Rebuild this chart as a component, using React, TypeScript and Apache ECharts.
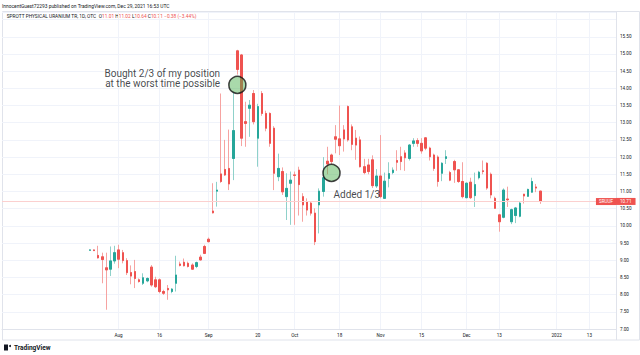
import React, { useEffect, useRef } from 'react';
import * as echarts from 'echarts';

// ---------- data ----------
const HOLIDAYS = ['2021-07-05', '2021-09-06', '2021-11-25', '2021-12-24', '2022-01-17'];
const AXIS_START = '2021-06-22';
const SLOT_COUNT = 150;
const FIRST_BAR = '2021-07-22';

const tickLabels: Record<string, string> = {
  '2021-08-02': 'Aug',
  '2021-08-16': '16',
  '2021-09-01': 'Sep',
  '2021-09-20': '20',
  '2021-10-01': 'Oct',
  '2021-10-18': '18',
  '2021-11-01': 'Nov',
  '2021-11-15': '15',
  '2021-12-01': 'Dec',
  '2021-12-13': '13',
  '2022-01-03': '2022',
  '2022-01-13': '13',
};

const opens = [
  9.29, 9.30, 9.14, 9.10, 8.78, 8.74, 8.98,
  9.30, 9.22, 8.99, 8.64, 8.67, 8.43, 8.33, 8.40, 8.80, 8.43,
  8.43, 8.09, 8.18, 8.09, 8.33, 8.89, 8.94, 8.91, 8.86, 8.82,
  9.09, 9.40, 9.61, 10.43, 11.01, 11.51, 11.64, 11.67, 11.96,
  15.09, 14.97, 13.03, 13.42, 13.85, 12.55, 13.85, 13.27, 13.27, 12.84,
  11.43, 11.58, 10.85, 11.24, 11.48, 11.62, 10.85, 10.70, 10.66, 10.37,
  10.61, 11.00, 11.88, 12.06, 12.59, 12.53, 12.79, 13.47, 12.88, 12.55,
  12.50, 11.72, 11.77, 11.92, 11.16, 11.45, 10.80, 11.38, 11.55, 11.90,
  12.01, 12.12, 11.96, 12.40, 12.48, 12.40, 12.56, 12.26, 12.06, 12.00,
  11.53, 11.96, 11.55, 11.87, 11.63, 11.29, 10.82, 11.27, 10.88, 11.40,
  11.60, 11.82, 11.50, 10.80, 10.32, 10.25, 10.78, 10.12, 10.30, 10.28,
  10.92, 10.86, 10.98, 11.13, 11.01,
];
const highs = [
  9.31, 9.31, 9.42, 9.22, 9.22, 9.40, 9.42,
  9.45, 9.30, 9.06, 8.85, 9.01, 8.47, 8.62, 8.50, 8.86, 8.52,
  8.47, 8.14, 8.28, 8.19, 9.13, 8.96, 9.05, 8.96, 8.91, 8.96,
  9.16, 9.45, 9.66, 11.24, 11.28, 13.85, 12.50, 12.80, 13.90,
  15.12, 15.00, 13.61, 13.66, 13.95, 13.55, 13.92, 13.35, 13.30, 12.90,
  12.10, 11.70, 11.53, 11.58, 11.58, 11.72, 10.95, 10.80, 10.70, 10.51,
  11.09, 12.00, 12.30, 12.10, 12.93, 13.50, 12.93, 13.50, 12.95, 12.79,
  12.60, 11.95, 11.95, 12.05, 11.65, 12.64, 11.55, 11.85, 11.70, 12.20,
  12.30, 12.20, 12.38, 12.55, 12.55, 12.55, 12.58, 12.30, 12.10, 12.05,
  11.85, 12.20, 11.60, 11.92, 11.65, 11.85, 11.26, 11.40, 11.55, 11.60,
  11.90, 11.85, 11.55, 10.85, 10.35, 11.09, 11.14, 10.50, 10.55, 10.70,
  10.93, 11.08, 11.40, 11.22, 11.02,
];
const lows = [
  9.29, 9.28, 9.05, 8.33, 7.56, 8.54, 8.90,
  8.77, 8.91, 8.57, 8.30, 8.19, 8.35, 8.28, 8.36, 8.23, 8.19,
  8.04, 7.99, 7.85, 8.04, 8.09, 8.82, 8.82, 8.79, 8.72, 8.77,
  8.99, 9.18, 9.52, 10.36, 10.56, 11.25, 11.45, 11.04, 11.33,
  14.40, 12.32, 12.30, 12.59, 12.95, 11.72, 13.20, 12.75, 12.30, 11.04,
  11.30, 10.90, 10.17, 10.03, 10.03, 10.30, 10.12, 10.30, 10.30, 9.44,
  9.78, 10.85, 11.50, 11.80, 12.11, 12.06, 12.16, 12.45, 12.20, 11.92,
  11.70, 11.50, 11.50, 11.10, 11.10, 10.80, 10.78, 11.12, 11.50, 11.60,
  11.62, 11.60, 11.90, 12.30, 12.30, 12.10, 12.20, 11.90, 11.60, 11.14,
  11.30, 11.80, 11.30, 11.25, 11.25, 10.80, 10.80, 10.78, 10.55, 11.35,
  11.50, 11.05, 10.80, 10.50, 9.83, 10.22, 10.55, 10.05, 10.08, 10.25,
  10.65, 10.84, 10.96, 10.98, 10.64,
];
const closes = [
  9.30, 9.28, 9.07, 9.02, 8.72, 8.98, 9.22,
  9.03, 8.99, 8.64, 8.54, 8.47, 8.38, 8.49, 8.47, 8.28, 8.23,
  8.09, 8.04, 8.14, 8.16, 8.57, 8.85, 8.84, 8.82, 8.74, 8.93,
  9.01, 9.20, 9.54, 10.38, 11.04, 11.29, 11.48, 11.22, 12.77,
  14.55, 12.55, 12.98, 13.51, 13.03, 13.47, 13.27, 12.84, 12.40, 11.53,
  11.67, 10.99, 11.09, 11.33, 11.47, 11.20, 10.61, 10.46, 10.37, 9.54,
  11.01, 11.40, 11.80, 11.87, 12.52, 12.33, 12.53, 12.50, 12.37, 12.35,
  11.72, 11.55, 11.58, 11.17, 11.45, 10.85, 11.30, 11.52, 11.62, 11.85,
  11.87, 11.98, 12.35, 12.47, 12.40, 12.18, 12.26, 12.01, 11.67, 11.29,
  11.82, 12.01, 11.33, 11.63, 11.29, 10.85, 11.24, 10.82, 11.20, 11.56,
  11.58, 11.10, 10.90, 10.51, 10.12, 11.04, 10.76, 10.47, 10.52, 10.66,
  10.87, 11.06, 11.29, 11.10, 10.71,
];

const LAST_PRICE = 10.71;
const annotationDates = ['2021-09-13', '2021-10-14'];
const annotationPrices = [14.1, 11.54];
const annotationTexts = ['Bought 2/3 of my position\nat the worst time possible', 'Added 1/3'];

const HEADER = 'InnocentGuest72293 published on TradingView.com, Dec 29, 2021 16:53 UTC';
const SYMBOL_NAME = 'SPROTT PHYSICAL URANIUM TR, 1D, OTC';
const TICKER = 'SRUUF';

// ---------- helpers ----------
const tradingDays = (start: string, count: number): string[] => {
  const out: string[] = [];
  const d = new Date(start + 'T00:00:00Z');
  while (out.length < count) {
    const day = d.getUTCDay();
    const s = d.toISOString().slice(0, 10);
    if (day !== 0 && day !== 6 && !HOLIDAYS.includes(s)) out.push(s);
    d.setUTCDate(d.getUTCDate() + 1);
  }
  return out;
};

const UP = '#26a69a';
const DOWN = '#ef5350';
const WICK_UP = '#8fd1ca';
const WICK_DOWN = '#f6a3a1';
const FONT = 'Roboto, sans-serif';
const AXIS_FS = 4.6;

export default function App() {
  const ref = useRef<HTMLDivElement>(null);

  useEffect(() => {
    if (!ref.current) return;
    const chart = echarts.init(ref.current, undefined, { renderer: 'svg' });

    const categories = tradingDays(AXIS_START, SLOT_COUNT);
    const first = categories.indexOf(FIRST_BAR);
    const wickData = categories.map((_, k) => {
      const i = k - first;
      if (i < 0 || i >= opens.length) return '-';
      return [opens[i], closes[i], lows[i], highs[i]];
    });
    const bodyData = categories.map((_, k) => {
      const i = k - first;
      if (i < 0 || i >= opens.length) return '-';
      return [opens[i], closes[i], Math.min(opens[i], closes[i]), Math.max(opens[i], closes[i])];
    });

    const isTick = (_: number, v: string) => !!tickLabels[v];

    const option: any = {
      animation: false,
      backgroundColor: '#ffffff',
      textStyle: { fontFamily: FONT },
      grid: { left: 2, right: 24, top: 12, bottom: 26, show: false },
      xAxis: {
        type: 'category',
        data: categories,
        boundaryGap: true,
        axisLine: { show: true, lineStyle: { color: '#e0e3eb', width: 1 } },
        axisTick: { show: false },
        axisLabel: {
          interval: isTick,
          formatter: (v: string) => tickLabels[v] || '',
          fontSize: AXIS_FS,
          color: '#131722',
          margin: 4,
          fontFamily: FONT,
        },
        splitLine: {
          show: true,
          interval: isTick,
          alignWithLabel: true,
          lineStyle: { color: '#f0f3fa', width: 1 },
        },
      },
      yAxis: {
        type: 'value',
        position: 'right',
        min: 7,
        max: 16.22,
        interval: 0.5,
        axisLine: { show: true, lineStyle: { color: '#e0e3eb', width: 1 } },
        axisTick: { show: false },
        axisLabel: {
          fontSize: AXIS_FS,
          color: '#131722',
          margin: 4,
          showMaxLabel: false,
          fontFamily: FONT,
          formatter: (v: number) => (v > 15.6 ? '' : v.toFixed(2)),
        },
        splitLine: { show: true, lineStyle: { color: '#f0f3fa', width: 1 } },
      },
      series: [
        {
          type: 'candlestick',
          data: wickData,
          barWidth: 2,
          silent: true,
          itemStyle: {
            color: 'rgba(0,0,0,0)',
            color0: 'rgba(0,0,0,0)',
            borderColor: WICK_UP,
            borderColor0: WICK_DOWN,
            borderColorDoji: WICK_UP,
            borderWidth: 1,
          },
          markLine: {
            silent: true,
            symbol: ['none', 'none'],
            lineStyle: { color: '#fbd0cf', type: 'solid', width: 1 },
            data: [
              {
                yAxis: LAST_PRICE,
                label: {
                  show: true,
                  position: 'end',
                  distance: 0,
                  formatter: LAST_PRICE.toFixed(2),
                  backgroundColor: DOWN,
                  color: '#ffffff',
                  fontSize: AXIS_FS,
                  fontFamily: FONT,
                  padding: [1, 4, 1, 4],
                },
              },
              {
                yAxis: LAST_PRICE,
                label: {
                  show: true,
                  position: 'insideEndTop',
                  distance: [0, -3.6],
                  formatter: TICKER,
                  backgroundColor: DOWN,
                  color: '#ffffff',
                  fontSize: AXIS_FS,
                  fontFamily: FONT,
                  padding: [1, 3, 1, 3],
                },
              },
            ],
          },
        },
        {
          type: 'candlestick',
          data: bodyData,
          barWidth: 2,
          silent: true,
          itemStyle: {
            color: UP,
            color0: DOWN,
            borderColor: UP,
            borderColor0: DOWN,
            borderColorDoji: UP,
            borderWidth: 1,
          },
        },
        {
          type: 'scatter',
          z: 5,
          symbol: 'circle',
          symbolSize: 17,
          silent: true,
          itemStyle: { color: 'rgba(76,175,80,0.6)', borderColor: '#111111', borderWidth: 1.5 },
          data: [
            {
              value: [annotationDates[0], annotationPrices[0]],
              label: {
                show: true,
                formatter: annotationTexts[0],
                position: 'left',
                distance: 8,
                offset: [0, -6.5],
                fontSize: 10,
                lineHeight: 10,
                color: '#131722',
                fontFamily: FONT,
                align: 'right',
              },
            },
            {
              value: [annotationDates[1], annotationPrices[1]],
              label: {
                show: true,
                formatter: annotationTexts[1],
                position: 'bottom',
                distance: 5,
                offset: [2, 1],
                fontSize: 10,
                lineHeight: 12,
                color: '#131722',
                fontFamily: FONT,
                align: 'left',
              },
            },
          ],
        },
      ],
      graphic: [
        {
          type: 'text',
          x: 2,
          y: 6,
          silent: true,
          style: {
            text: HEADER,
            fontSize: 4.9,
            fontFamily: FONT,
            fill: '#131722',
            verticalAlign: 'middle',
          },
        },
        {
          type: 'rect',
          silent: true,
          z: -10,
          shape: { x: 2.5, y: 11.5, width: 637, height: 328.5 },
          style: { fill: 'none', stroke: '#e0e3eb', lineWidth: 1 },
        },
        {
          type: 'line',
          silent: true,
          shape: { x1: 616.5, y1: 329, x2: 616.5, y2: 340 },
          style: { stroke: '#e0e3eb', lineWidth: 1 },
        },
        {
          type: 'text',
          x: 6.7,
          y: 16.7,
          silent: true,
          style: {
            text: `{n|${SYMBOL_NAME}}  {k|O}{v|${opens[opens.length - 1].toFixed(2)}} {k|H}{v|${highs[highs.length - 1].toFixed(2)}} {k|L}{v|${lows[lows.length - 1].toFixed(2)}} {k|C}{v|${closes[closes.length - 1].toFixed(2)}} {v|−0.38 (−3.44%)}`,
            fontSize: 4.8,
            fontFamily: FONT,
            verticalAlign: 'middle',
            rich: {
              n: { fill: '#131722', fontSize: 4.8, fontFamily: FONT },
              k: { fill: '#131722', fontSize: 4.8, fontFamily: FONT },
              v: { fill: DOWN, fontSize: 4.8, fontFamily: FONT },
            },
          },
        },
        {
          type: 'text',
          x: 14,
          y: 347.5,
          silent: true,
          style: {
            text: 'TradingView',
            fontSize: 6.5,
            fontWeight: 'bold',
            fontFamily: FONT,
            fill: '#131722',
            verticalAlign: 'middle',
          },
        },
        {
          type: 'rect',
          silent: true,
          shape: { x: 4, y: 344.5, width: 4, height: 6 },
          style: { fill: '#131722' },
        },
        {
          type: 'circle',
          silent: true,
          shape: { cx: 10, cy: 346, r: 1 },
          style: { fill: '#131722' },
        },
      ],
    };

    chart.setOption(option);
    return () => chart.dispose();
  }, []);

  return (
    <div
      ref={ref}
      style={{ position: 'fixed', left: 0, top: 0, width: 640, height: 355, background: '#fff' }}
    />
  );
}
